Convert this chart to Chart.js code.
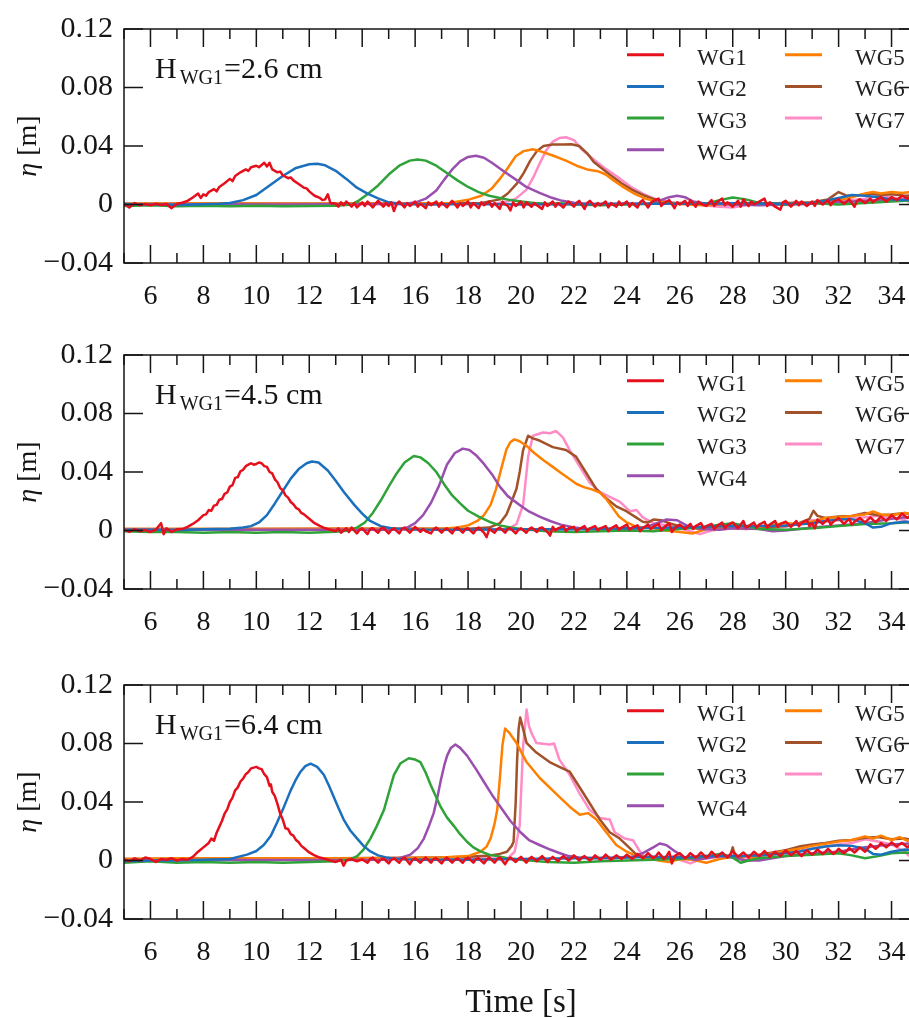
<!DOCTYPE html>
<html>
<head>
<meta charset="utf-8">
<script src="https://cdn.jsdelivr.net/npm/chart.js@4.4.1/dist/chart.umd.min.js"></script>
<style>
  html, body { margin: 0; padding: 0; background: #fff; }
  #wrap { position: relative; width: 909px; height: 1018px; overflow: hidden; background: #fff; }
  canvas { position: absolute; left: 0; }
</style>
</head>
<body>
<div id="wrap">
  <canvas id="c0" width="960" height="326" style="top:0px"></canvas>
  <canvas id="c1" width="960" height="326" style="top:326px"></canvas>
  <canvas id="c2" width="960" height="362" style="top:656px"></canvas>
</div>
<script>
// Surface elevation records (time in s, elevation in mm) for wave gauges WG1..WG7.
// Suffix _a: H_WG1 = 2.6 cm, _b: 4.5 cm, _c: 6.4 cm.

// ---------- H = 2.6 cm ----------
const wg1_a = [[5.0,0.5],[5.2,-2],[5.4,1],[5.6,-0.5],[5.8,0.3],[6.0,-0.5],[6.2,0.5],[6.4,-0.3],[6.6,0.4],[6.8,-2.5],[7.0,0.5],[7.2,1.2],[7.4,2.5],[7.6,4.8],[7.8,7.5],[7.9,4.5],[8.0,7],[8.1,6],[8.2,8.5],[8.4,10.5],[8.5,9],[8.6,12],[8.8,14.5],[9.0,17.5],[9.1,16],[9.2,19.5],[9.4,22],[9.6,24],[9.7,23],[9.8,25.5],[10.0,26.5],[10.1,25.5],[10.2,27],[10.3,28.5],[10.4,26],[10.5,28.5],[10.6,24],[10.8,22],[10.9,22.5],[11.0,20],[11.2,18],[11.3,18.5],[11.4,16.5],[11.6,14],[11.8,11.5],[11.9,11],[12.0,9],[12.2,6],[12.4,4.5],[12.5,3],[12.6,3.5],[12.7,7],[12.8,1],[13.0,0.5],[13.1,-1.5],[13.2,1.5],[13.3,-0.5],[13.4,2],[13.6,-1.5],[13.7,1],[13.8,-2],[14.0,1.5],[14.1,-1],[14.2,2],[14.4,-2],[14.5,0.5],[14.6,2.5],[14.8,-1.5],[14.9,1],[15.0,-1],[15.1,1.5],[15.2,-4.5],[15.3,0.5],[15.4,2],[15.6,-2],[15.7,1],[15.8,-1],[16.0,2],[16.1,-1.5],[16.2,0.5],[16.4,-2.5],[16.5,1.5],[16.6,-0.5],[16.8,2],[16.9,-1.5],[17.0,1.5],[17.2,-2],[17.3,0.5],[17.4,2.5],[17.6,-2],[17.7,1],[17.8,-1],[18.0,2],[18.1,-2],[18.2,1],[18.4,-2.5],[18.5,1.5],[18.6,-0.5],[18.8,2],[18.9,-1.5],[19.0,1],[19.2,-3],[19.3,2],[19.4,0],[19.5,-1],[19.6,-4],[19.7,1.5],[19.8,-1],[20.0,2],[20.1,-2],[20.2,1.5],[20.4,-1.5],[20.5,1],[20.6,-0.5],[20.8,-3],[20.9,1.5],[21.0,-1],[21.2,2],[21.3,-1.5],[21.4,1],[21.6,-2],[21.7,0.5],[21.8,2],[22.0,-1.5],[22.1,1],[22.2,2.5],[22.4,-3],[22.5,1],[22.6,2.5],[22.8,-1.5],[22.9,1],[23.0,-0.5],[23.2,2],[23.3,-2],[23.4,1],[23.6,-1.5],[23.7,2],[23.8,-0.5],[24.0,2],[24.1,-1.5],[24.2,1],[24.4,-2],[24.5,1.5],[24.6,3],[24.8,-2],[24.9,1],[25.0,2.5],[25.2,4],[25.3,-1],[25.4,1],[25.6,3],[25.8,-2.5],[25.9,1.5],[26.0,0],[26.2,2.5],[26.3,-1],[26.4,3],[26.6,-1.5],[26.7,2],[26.8,0.5],[27.0,-1],[27.2,3],[27.3,-1],[27.4,1.5],[27.6,4],[27.7,-0.5],[27.8,1.5],[28.0,-1.5],[28.2,2.5],[28.3,-1.5],[28.4,3.5],[28.6,-1],[28.7,2],[28.8,0],[29.0,2],[29.2,4],[29.3,-1],[29.4,1.5],[29.6,-1.5],[29.8,-3.5],[29.9,1.5],[30.0,2.5],[30.2,-1.5],[30.4,2.5],[30.5,-0.5],[30.6,2],[30.8,-1],[31.0,2],[31.1,-1],[31.2,3],[31.4,0],[31.6,3],[31.7,-0.5],[31.8,2],[32.0,3.5],[32.2,0.5],[32.4,3.5],[32.6,-1.5],[32.7,2.5],[32.8,3.5],[33.0,1],[33.2,4],[33.3,1.5],[33.4,3],[33.6,5],[33.8,2],[34.0,5],[34.2,3],[34.4,6],[34.6,4],[34.8,6.5],[35.0,4.5]];
const wg2_a = [[5,0.3],[6,0],[7,-0.3],[8,0.2],[8.6,0.5],[9.0,1],[9.5,3],[10.0,6.5],[10.5,13],[11.0,19.5],[11.5,25],[12.0,27.5],[12.3,27.8],[12.6,26.8],[13.0,23],[13.4,17.5],[13.8,11.5],[14.2,7.5],[14.6,4.2],[15.0,1.5],[15.5,0.3],[16.5,0],[18,0.3],[20,0],[22,0.2],[24,0.5],[26,0.5],[28,0.8],[30,0.5],[31,1],[31.5,2.5],[32,4.5],[32.5,6.5],[33,6],[33.5,5],[34,3.5],[34.5,3],[35,3.5]];
const wg3_a = [[5,-1],[6,-0.5],[7,-1.2],[8,-0.8],[9,-1.2],[10,-0.8],[11,-1.2],[12,-1],[13,-0.8],[13.6,0],[13.9,3],[14.2,7],[14.6,13],[15.0,20.5],[15.4,26.5],[15.8,30],[16.1,30.8],[16.4,30],[16.8,26.5],[17.2,21.5],[17.6,16.5],[18.0,12],[18.4,8.5],[18.8,6],[19.2,4.5],[19.6,3],[20.0,2],[20.5,1],[21,0.5],[21.5,0.8],[22,0],[23,-0.5],[24,0],[25,0.5],[26,0.5],[27,0.5],[27.5,3],[28,4.8],[28.5,3.5],[29,1],[30,0],[31,1],[32,0],[33,1],[34,2],[35,3]];
const wg4_a = [[5,0],[8,0.2],[11,0],[14,0.3],[15.5,0.3],[16.0,1.3],[16.4,4],[16.8,9.5],[17.1,17],[17.4,24],[17.7,29.5],[18.0,32.5],[18.3,33.3],[18.6,32],[18.9,28.5],[19.4,22],[19.85,16.5],[20.2,12],[20.7,7.9],[21.1,5],[21.5,2.8],[22,1.2],[22.5,0.5],[23,0.3],[24,0.5],[24.8,0.5],[25.2,2.5],[25.6,5],[25.9,6],[26.2,5],[26.5,2],[27,0.5],[28,0],[29,-0.5],[30,0],[31,0.5],[32,1.5],[33,2.5],[34,3.5],[35,3]];
const wg5_a = [[5,0.5],[8,0.6],[11,0.5],[14,0.6],[16,0.7],[17.3,1],[18.0,3.2],[18.5,6],[18.9,11],[19.2,17.5],[19.5,25],[19.8,33],[20.1,36.5],[20.45,37.8],[20.8,36],[21.2,33.5],[21.7,30],[22.1,26.5],[22.5,24],[22.9,22.8],[23.2,20.5],[23.5,16.5],[23.9,11.5],[24.3,7.2],[24.7,4],[25.1,2],[25.6,0.8],[26,0.3],[27,-0.5],[28,0.5],[29,0],[30,0.5],[31,1],[31.5,2],[32,3],[32.5,5],[33,7.5],[33.3,8.5],[33.6,7.5],[34,8.5],[34.4,7.8],[34.7,8.5],[35,7]];
const wg6_a = [[5,0.5],[9,0.6],[13,0.5],[17,0.6],[18.5,1],[19.2,3.5],[19.5,7.5],[19.85,14.5],[20.1,21.5],[20.35,30],[20.6,36.5],[20.85,40],[21.2,41],[21.6,41],[21.9,41.2],[22.2,40],[22.5,35],[22.75,29],[23.35,20.5],[23.8,14.5],[24.2,10],[24.6,6.5],[24.9,4.5],[25.3,2],[25.7,1.2],[26.2,0.8],[27,0.5],[28,0.5],[29,0.5],[30,1],[31,1.5],[31.6,3.5],[32.0,8.5],[32.3,6],[32.8,6.5],[33.2,7.5],[33.6,6.5],[34,7],[34.5,6],[35,6.5]];
const wg7_a = [[5,0.3],[9,0.4],[13,0.3],[17,0.4],[19.0,0.5],[19.5,2],[19.8,4],[20.2,10],[20.45,18],[20.7,27.8],[20.95,37],[21.2,43],[21.45,45.4],[21.7,46],[22.0,44],[22.3,37.5],[22.6,33],[22.9,28.5],[23.2,24.5],[23.6,19.5],[24.2,11.5],[24.6,7.5],[24.9,5],[25.3,2.5],[25.8,1],[26.5,0],[27.5,-1.5],[28,-2],[28.5,-0.5],[29,0.5],[30,0],[31,0.5],[32,2],[33,4],[33.5,6],[34,5],[34.5,3.5],[34.8,0],[35,-2]];

// ---------- H = 4.5 cm ----------
const wg1_b = [[5.0,0.5],[5.2,-1],[5.4,0.8],[5.6,-0.5],[5.8,0.3],[6.0,-1],[6.2,0.5],[6.4,5],[6.5,-2.5],[6.6,1.5],[6.8,-1],[7.0,0.8],[7.2,1],[7.4,2.5],[7.6,4.5],[7.8,7],[8.0,10.5],[8.1,11],[8.2,14],[8.3,13.5],[8.4,17],[8.5,17.5],[8.6,21],[8.7,21.5],[8.8,25],[8.9,26],[9.0,30],[9.1,31],[9.2,36],[9.3,36.5],[9.4,40.5],[9.5,41.5],[9.6,44],[9.7,45],[9.8,46],[9.9,45],[10.0,45.5],[10.1,46.5],[10.2,46],[10.3,44],[10.4,43.5],[10.5,40],[10.6,39],[10.7,35],[10.8,33],[10.9,29],[11.0,27.5],[11.1,24],[11.2,22.5],[11.3,19.5],[11.4,18],[11.5,15.5],[11.6,14.5],[11.7,12],[11.8,11],[12.0,8],[12.2,5],[12.4,3.2],[12.6,1.5],[12.8,0.5],[13.0,-0.5],[13.1,1.5],[13.2,-1.5],[13.4,1.5],[13.5,-1],[13.6,2],[13.8,-2],[13.9,0.5],[14.0,1.5],[14.2,-2.5],[14.3,1],[14.4,1.5],[14.6,-1.5],[14.7,1],[14.8,2],[15.0,-2],[15.1,0.5],[15.2,1.5],[15.4,-2],[15.5,1],[15.6,2],[15.8,-1.5],[15.9,0.5],[16.0,2.5],[16.2,-1],[16.3,1],[16.4,-0.5],[16.6,-2],[16.7,1],[16.8,2],[17.0,-1.5],[17.1,0.5],[17.2,1.5],[17.4,-2],[17.5,1],[17.6,2],[17.8,-1.5],[17.9,1],[18.0,1.5],[18.2,-2],[18.3,0.5],[18.4,2],[18.6,-1.5],[18.7,-4.5],[18.8,1],[19.0,-1.5],[19.1,1],[19.2,2],[19.4,-1.5],[19.5,1],[19.6,1.5],[19.8,-2],[19.9,0.5],[20.0,1.5],[20.2,-1.5],[20.3,1],[20.4,2],[20.6,-1],[20.7,1.5],[20.8,2],[21.0,-1],[21.1,-3.5],[21.2,2.5],[21.3,0],[21.4,1.5],[21.6,3],[21.7,-0.5],[21.8,1.5],[22.0,2.5],[22.1,-0.5],[22.2,1],[22.4,3],[22.5,-0.5],[22.6,1.5],[22.8,3],[22.9,0],[23.0,1.5],[23.2,3],[23.3,-0.5],[23.4,1.5],[23.6,3.5],[23.7,0.5],[23.8,2],[24.0,4],[24.1,0.5],[24.2,2],[24.4,3.5],[24.5,-0.5],[24.6,1.5],[24.8,4],[24.9,1],[25.0,2.5],[25.2,4.5],[25.3,0],[25.4,2],[25.6,5],[25.7,-1],[25.8,1.5],[26.0,4],[26.2,1],[26.4,4.5],[26.5,1],[26.6,3],[26.8,5],[26.9,1.5],[27.0,3],[27.2,4.5],[27.3,1],[27.4,3],[27.6,5.5],[27.7,1.5],[27.8,3.5],[28.0,5.5],[28.2,1.5],[28.4,6.5],[28.5,2],[28.6,3],[28.8,5.5],[28.9,2],[29.0,4],[29.2,6],[29.3,2],[29.4,4],[29.6,6.5],[29.7,2.5],[29.8,4.5],[30.0,6],[30.2,2.5],[30.4,6.5],[30.5,3],[30.6,5],[30.8,7],[30.9,3],[31.0,5],[31.1,1.5],[31.2,7.5],[31.4,4.5],[31.6,8],[31.7,4],[31.8,6],[32.0,8.5],[32.2,4.5],[32.4,8],[32.5,4],[32.6,6],[32.8,8.5],[33.0,5.5],[33.2,9],[33.4,5.5],[33.6,9.5],[33.8,6.5],[34.0,10.5],[34.2,7.5],[34.4,11.5],[34.6,8.5],[34.8,11.5],[35.0,9.5]];
const wg2_b = [[5,0.5],[6,0.5],[7,0.3],[8,0.8],[9,1.2],[9.5,2],[9.8,3],[10.1,5.5],[10.4,10.5],[10.7,18.5],[11.0,27],[11.3,35.5],[11.6,42],[11.9,46],[12.1,47.2],[12.35,46.5],[12.7,41],[13.0,34],[13.3,26.5],[13.7,17.5],[14.0,11.5],[14.3,6.5],[14.7,3],[15.1,1.5],[15.6,0.8],[16.5,0.5],[18,0.5],[20,0.8],[22,0.8],[24,1.5],[26,2],[27,2.5],[28,3],[29,3],[30,3.5],[31,5],[31.5,6.5],[32,7.5],[32.5,7.8],[33,5],[33.3,2],[33.6,2.5],[34,5],[34.5,6],[35,5.5]];
const wg3_b = [[5,-0.5],[6,-1],[7,-1],[8,-1.5],[9,-1],[10,-1.5],[11,-1],[12,-1.5],[13,-0.8],[13.5,0],[13.8,2],[14.1,5.5],[14.4,12],[14.7,20.5],[15.0,30],[15.3,39],[15.6,46.5],[15.95,51],[16.2,50],[16.5,46],[16.8,40],[17.1,31.5],[17.4,24],[17.7,18.5],[18.0,13.5],[18.4,9.5],[18.8,6],[19.2,3.5],[19.6,2],[20,1],[21,-0.5],[22,-1],[23,-0.5],[24,0],[25,-0.5],[26,1],[27,2.5],[27.5,4],[28,5],[28.5,3],[29,1],[30,0.5],[31,1.5],[32,3],[33,4.5],[34,5],[35,6]];
const wg4_b = [[5,0.5],[9,0.5],[13,0.5],[15.3,0.5],[15.7,2],[16.0,5],[16.3,10.5],[16.6,19],[16.9,30.5],[17.2,45],[17.5,53],[17.8,56],[18.05,55],[18.3,51.5],[18.6,45.5],[18.9,38.5],[19.2,30],[19.5,23.5],[19.95,17.5],[20.3,13],[20.7,9.5],[21.1,6.5],[21.5,4],[22,2],[22.5,1],[23.5,0.5],[24.5,1.5],[25,4],[25.5,7.5],[25.9,7],[26.3,3],[26.8,1],[27.5,0.5],[28,1.5],[29,1],[29.5,-0.5],[30,0],[31,2],[32,3.5],[33,5],[34,8],[34.5,9],[35,8]];
const wg5_b = [[5,1],[9,1],[13,1.2],[17,1.2],[17.6,2],[18.0,3.5],[18.35,6.5],[18.6,10.5],[18.85,17.5],[19.05,28],[19.25,42],[19.45,55.5],[19.6,60.5],[19.75,62.3],[19.95,61],[20.2,58],[20.5,53],[20.85,48],[21.2,43.5],[21.5,39.5],[21.85,35],[22.1,31.8],[22.4,29.5],[22.65,28.3],[22.98,26],[23.2,22],[23.4,17],[23.7,9.5],[24.0,5.5],[24.3,3],[24.6,2],[25,1.5],[25.5,0],[26,-1],[26.5,-2],[27,1],[27.5,2],[28,2.5],[28.5,1],[29,2.5],[29.5,4],[30,5],[30.5,4.5],[31,6],[31.5,8.5],[32,9],[32.5,10],[33,11],[33.3,13],[33.6,11],[34,10.5],[34.5,12],[35,11]];
const wg6_b = [[5,1],[9,1],[13,1.2],[18,1.2],[18.8,2],[19.2,5],[19.45,11],[19.65,20],[19.83,28.5],[19.95,40],[20.08,55],[20.27,64.8],[20.45,63],[20.7,61.5],[21.2,57],[21.7,55],[22.08,50.5],[22.46,39.5],[22.84,28.5],[23.22,22],[23.6,16.5],[23.98,13.2],[24.36,8.8],[24.6,6],[24.8,5.5],[25.0,7.5],[25.3,7],[25.6,5],[26,3],[26.5,1.5],[27,1],[28,2],[29,2],[30,3],[30.5,5],[30.9,8],[31.05,13.5],[31.2,10],[31.5,8.5],[32,9.5],[32.5,10],[33,12],[33.5,10.5],[34,11],[34.5,12],[35,10]];
const wg7_b = [[5,0.5],[9,0.6],[13,0.5],[17,0.6],[19.5,1],[19.83,4.4],[20.08,17.6],[20.27,50.5],[20.45,64.8],[20.83,67],[21.1,66.5],[21.33,68],[21.58,63.7],[21.84,55],[22.22,43.7],[22.6,32.6],[22.98,26.4],[23.35,23],[23.73,19.8],[24.11,13.2],[24.36,14],[24.6,9],[25.0,5],[25.7,3],[26.2,0.5],[26.76,-2.5],[27.2,0],[27.8,1.5],[28.5,1],[29,1.5],[30,2.5],[30.5,4.5],[31,7],[31.5,6],[32,7],[32.5,8.5],[33,9],[33.5,10],[34,9],[34.5,7],[34.8,3],[35,-1]];

// ---------- H = 6.4 cm ----------
const wg1_c = [[5.0,1],[5.2,-0.5],[5.4,1.5],[5.6,0],[5.8,2],[6.0,1],[6.2,-1],[6.4,1],[6.6,0.5],[6.8,1.5],[7.0,0],[7.2,1],[7.4,0.5],[7.6,2.5],[7.8,6],[8.0,9],[8.2,12],[8.3,15],[8.4,13.5],[8.5,19],[8.6,23],[8.7,27],[8.8,32],[8.9,35],[9.0,40],[9.1,43],[9.2,48],[9.3,50],[9.4,54],[9.5,56],[9.6,59],[9.7,60.5],[9.8,63],[9.9,63.5],[10.0,64],[10.1,63],[10.2,62.5],[10.3,59],[10.4,57],[10.5,51],[10.55,52],[10.6,47],[10.7,44],[10.8,38.5],[10.9,32],[11.0,28],[11.1,22],[11.2,21.5],[11.3,18],[11.4,17],[11.5,14],[11.6,12.5],[11.7,10],[11.8,8.5],[12.0,5.5],[12.2,3.5],[12.4,2],[12.6,1],[12.8,0],[13.0,-1],[13.2,0.5],[13.3,-3.5],[13.4,0],[13.6,1],[13.8,-0.5],[14.0,0.8],[14.2,-1.5],[14.3,1],[14.4,2],[14.6,-1.5],[14.7,0.5],[14.8,1.5],[15.0,-2],[15.1,0.5],[15.2,1.5],[15.4,-1.5],[15.5,1],[15.6,2],[15.8,-2.5],[15.9,0.5],[16.0,1.5],[16.2,-1.5],[16.3,0.5],[16.4,2],[16.6,-1.5],[16.7,1],[16.8,1.5],[17.0,-2],[17.1,0.5],[17.2,2],[17.4,-1.5],[17.5,0.5],[17.6,1.5],[17.8,-1.5],[17.9,1],[18.0,2],[18.2,-1.5],[18.3,1],[18.4,1.5],[18.6,-2],[18.7,0.5],[18.8,2],[19.0,-1.5],[19.1,1],[19.2,2],[19.4,-2.5],[19.5,0.5],[19.6,2],[19.8,-1],[19.9,1],[20.0,2.5],[20.2,-1.5],[20.3,1],[20.4,2.5],[20.6,-0.5],[20.7,1.5],[20.8,3],[21.0,-1],[21.1,1],[21.2,2.5],[21.4,-0.5],[21.5,1.5],[21.6,3],[21.8,0],[21.9,1.5],[22.0,3.5],[22.2,0],[22.3,2],[22.4,3],[22.6,0],[22.7,1.5],[22.8,3.5],[23.0,0.5],[23.1,2],[23.2,4],[23.4,0.5],[23.5,2],[23.6,3.5],[23.8,1],[23.9,2.5],[24.0,4],[24.2,1],[24.3,2.5],[24.4,4.5],[24.6,1.5],[24.7,3],[24.8,5],[25.0,1.5],[25.1,3],[25.2,5.5],[25.4,1],[25.5,3],[25.6,6],[25.7,-2],[25.8,3],[26.0,5],[26.2,1.5],[26.3,3],[26.4,5],[26.6,2],[26.7,3.5],[26.8,5.5],[27.0,2],[27.1,3.5],[27.2,6],[27.4,2.5],[27.5,4],[27.6,5.5],[27.8,2],[27.9,4],[28.0,6.5],[28.2,2.5],[28.3,4],[28.4,5.5],[28.6,2],[28.7,4],[28.8,6],[29.0,3],[29.1,4.5],[29.2,6.5],[29.4,2.5],[29.5,4.5],[29.6,6],[29.8,3],[29.9,5],[30.0,7],[30.2,3.5],[30.3,5],[30.4,6.5],[30.6,3],[30.7,5],[30.8,7],[31.0,4],[31.1,5.5],[31.2,7.5],[31.4,4.5],[31.5,6],[31.6,8],[31.8,4.5],[31.9,6],[32.0,8],[32.2,5],[32.3,6.5],[32.4,8.5],[32.6,5.5],[32.7,7],[32.8,9],[33.0,6],[33.1,8],[33.2,11],[33.4,8],[33.5,9.5],[33.6,12],[33.8,9],[33.9,10.5],[34.0,12.5],[34.2,9.5],[34.3,11],[34.4,12],[34.6,9],[34.7,10.5],[34.8,12],[35.0,9.5]];
const wg2_c = [[5,-0.5],[6,0],[7,0],[8,0.5],[9,1],[9.65,4],[10.0,6.5],[10.28,10.6],[10.55,17],[10.78,25.8],[11.05,37],[11.29,47.6],[11.5,55.5],[11.67,60.7],[11.85,64.5],[12.05,66.2],[12.3,64],[12.55,58.6],[12.75,51],[12.93,43.3],[13.1,36],[13.3,28],[13.55,20.5],[13.81,15],[14.05,10],[14.31,6.2],[14.6,3.5],[14.9,2],[15.3,1],[16,0.5],[17,0.5],[18,0.5],[20,1],[22,1.5],[24,2],[25,2.5],[26,2],[27,3],[28,3],[29,3.5],[30,5],[30.5,6],[31,8],[31.5,9.5],[32,10.5],[32.5,10],[33,8],[33.3,4.5],[33.6,4],[34,6],[34.5,7.5],[35,7]];
const wg3_c = [[5,-1.5],[6,-0.5],[7,-1.5],[8,-1],[9,-1.5],[10,-1],[11,-1.5],[12,-1],[13,-0.5],[13.5,0.5],[13.81,3],[14.05,7.5],[14.31,15],[14.55,23.5],[14.82,34.5],[15.0,46],[15.2,58.6],[15.45,66.5],[15.76,69.9],[16.0,69],[16.2,67.3],[16.4,60],[16.58,52],[16.78,44],[16.96,36.8],[17.2,29.5],[17.46,23.7],[17.7,18],[17.96,12.8],[18.2,9],[18.47,6.2],[18.8,4],[19.1,3],[19.5,1.5],[20,0.5],[21,-1],[22,-1.5],[23,-0.5],[24,0],[25,0.5],[26,1],[27,3],[27.5,4.5],[28,2],[28.3,-1.5],[28.6,0],[29,1.5],[30,3],[31,4],[32,5],[32.5,3.5],[33,1.5],[33.5,3],[34,5],[34.5,5.5],[35,5]];
const wg4_c = [[5,0],[9,0.3],[13,0.3],[15,0.5],[15.4,1.5],[15.82,4],[16.1,8.5],[16.33,15],[16.5,22.5],[16.7,32.4],[16.85,44],[16.96,54],[17.1,65],[17.21,71.7],[17.35,77],[17.52,79.3],[17.7,77],[17.96,71.7],[18.3,62.5],[18.59,54],[18.9,45],[19.22,36.8],[19.6,27],[19.98,19.3],[20.3,14],[20.7,10.6],[21.1,7.5],[21.45,5.1],[21.8,3],[22.2,2],[22.8,1.5],[23.5,1.5],[24.2,2.5],[24.6,5],[25.0,9],[25.24,11.6],[25.5,10.5],[25.8,6.5],[26.2,2],[26.6,0.5],[27,1.5],[27.5,3],[28,2],[28.5,0],[29,0],[29.5,1.5],[30,3],[31,5],[32,6],[32.5,7.5],[33,9],[33.5,10],[34,11],[34.5,11.5],[35,12]];
const wg5_c = [[5,1],[8,1.5],[12,1.5],[15,1.5],[17,2],[18,3],[18.47,6],[18.7,9.5],[18.85,15],[19.0,25],[19.1,34.5],[19.2,56],[19.3,79],[19.4,90.2],[19.55,87.5],[19.83,80.4],[20.21,67.3],[20.71,56.4],[21.33,45.5],[21.84,36.8],[22.22,31.3],[22.53,32.4],[22.85,28],[23.22,19.3],[23.6,10.6],[23.98,6.2],[24.36,3],[24.8,1.5],[25.2,0],[25.6,-1],[26,1],[26.5,0.5],[27,-1.5],[27.5,1],[28,2.5],[28.5,0],[29,3],[29.5,5],[30,6.5],[30.5,8],[31,10],[31.5,11.5],[32,13],[32.5,14],[33,16.5],[33.3,15],[33.6,17],[34,14],[34.3,16],[34.6,13.5],[35,14.5]];
const wg6_c = [[5,1],[9,1.5],[13,1.5],[17,2],[18,2.5],[18.85,3.5],[19.2,4.5],[19.47,6],[19.65,10],[19.72,12.8],[19.8,40],[19.85,67.3],[19.91,90],[19.97,97.8],[20.08,90],[20.21,80.4],[20.58,73.8],[21.08,67.3],[21.45,64],[21.84,60.7],[22.22,49.9],[22.6,39],[22.98,28],[23.35,19.3],[23.73,15],[24.11,8.4],[24.36,4],[24.7,2],[25,1],[25.5,1.5],[26,2.5],[26.5,1],[27,2],[27.5,3.5],[27.9,3],[28.0,9],[28.1,2],[28.5,3],[29,4],[29.5,5.5],[30,7],[30.5,9.5],[31,11],[31.5,12],[32,13.5],[32.5,14],[33,15.5],[33.5,16],[34,14.5],[34.5,15],[35,13]];
const wg7_c = [[5,0.5],[9,1],[13,1],[17,1.2],[19.5,1.5],[19.76,6],[19.95,23.7],[20.08,78.2],[20.21,103.3],[20.3,92],[20.4,87],[20.58,80.4],[21.08,79.3],[21.25,80],[21.45,69],[21.84,58.6],[22.22,45.5],[22.6,34.5],[22.98,29],[23.35,28],[23.54,19.3],[23.92,15],[24.23,13.9],[24.5,6],[24.7,2],[25.0,2.5],[25.3,1],[25.7,3],[26,0.5],[26.4,-2],[26.8,1],[27.5,2.5],[28,3.5],[28.5,2],[29,3],[29.5,4],[30,5.5],[30.5,6.5],[31,8],[31.5,9.5],[32,11],[32.5,12],[33,14.5],[33.5,13],[34,11],[34.5,6],[34.8,1],[35,-2]];

// ---------- labels, ticks, styling ----------
const gaugeNames = ['WG1', 'WG2', 'WG3', 'WG4', 'WG5', 'WG6', 'WG7'];
const gaugeColors = ['#e6101d', '#1b70bd', '#2fa23a', '#9a4fae', '#ff8000', '#a2522a', '#ff8cc6'];
const waveHeights = ['2.6', '4.5', '6.4'];
const xTicks = [6, 8, 10, 12, 14, 16, 18, 20, 22, 24, 26, 28, 30, 32, 34];
const xMinorTicks = [5, 7, 9, 11, 13, 15, 17, 19, 21, 23, 25, 27, 29, 31, 33, 35];
const yTicks = [-0.04, 0, 0.04, 0.08, 0.12];
const yTickLabels = ['\u22120.04', '0', '0.04', '0.08', '0.12'];

const panelSeries = [
  [wg1_a, wg2_a, wg3_a, wg4_a, wg5_a, wg6_a, wg7_a],
  [wg1_b, wg2_b, wg3_b, wg4_b, wg5_b, wg6_b, wg7_b],
  [wg1_c, wg2_c, wg3_c, wg4_c, wg5_c, wg6_c, wg7_c]
];

const SERIF = '"Liberation Serif", "Times New Roman", Times, serif';
const INK = '#151515';

// Frame around the plot area plus inward ticks on all four sides.
const frameTicks = {
  id: 'frameTicks',
  afterDraw(chart) {
    const { ctx, chartArea: a, scales: { x, y } } = chart;
    ctx.save();
    ctx.strokeStyle = INK;
    ctx.lineWidth = 1.5;
    ctx.beginPath();
    const xt = (v, len) => {
      const px = x.getPixelForValue(v);
      ctx.moveTo(px, a.bottom); ctx.lineTo(px, a.bottom - len);
      ctx.moveTo(px, a.top); ctx.lineTo(px, a.top + len);
    };
    xTicks.forEach(v => xt(v, 18));
    xMinorTicks.forEach(v => xt(v, 10));
    yTicks.forEach(v => {
      const py = y.getPixelForValue(v);
      ctx.moveTo(a.left, py); ctx.lineTo(a.left + 19, py);
      ctx.moveTo(a.right, py); ctx.lineTo(a.right - 19, py);
    });
    ctx.stroke();
    ctx.strokeRect(a.left, a.top, a.right - a.left, a.bottom - a.top);
    ctx.restore();
  }
};

// Two-column legend inside the upper right of the plot area.
const gaugeLegend = {
  id: 'gaugeLegend',
  afterDatasetsDraw(chart) {
    const { ctx, chartArea: a } = chart;
    ctx.save();
    ctx.font = '23px ' + SERIF;
    ctx.fillStyle = '#222';
    ctx.textBaseline = 'alphabetic';
    ctx.lineCap = 'butt';
    chart.data.datasets.forEach((ds, i) => {
      const col = Math.floor(i / 4), row = i % 4;
      const x0 = a.right - 291 + col * 158;
      const yy = a.top + 25.7 + row * 31.7;
      ctx.strokeStyle = ds.borderColor;
      ctx.lineWidth = 3;
      ctx.beginPath(); ctx.moveTo(x0, yy); ctx.lineTo(x0 + 37, yy); ctx.stroke();
      ctx.fillText(ds.label, x0 + 70, yy + 10);
    });
    ctx.restore();
  }
};

// Wave-height note and the eta axis title (italic symbol, upright unit).
const panelText = {
  id: 'panelText',
  afterDatasetsDraw(chart, args, opts) {
    const { ctx, chartArea: a } = chart;
    ctx.save();
    ctx.fillStyle = INK;
    ctx.textBaseline = 'alphabetic';
    let x0 = a.left + 31;
    const base = a.top + 49;
    ctx.font = '30px ' + SERIF;
    ctx.fillText('H', x0, base);
    x0 += ctx.measureText('H').width + 3;
    ctx.font = '20px ' + SERIF;
    ctx.fillText('WG1', x0, base + 6);
    x0 += ctx.measureText('WG1').width + 1;
    ctx.font = '30px ' + SERIF;
    ctx.fillText('=' + opts.height + ' cm', x0, base);

    ctx.translate(36, (a.top + a.bottom) / 2);
    ctx.rotate(-Math.PI / 2);
    ctx.font = 'italic 28px ' + SERIF;
    const w1 = ctx.measureText('\u03b7').width;
    ctx.font = '28px ' + SERIF;
    const w2 = ctx.measureText(' [m]').width;
    const sx = -(w1 + w2) / 2;
    ctx.font = 'italic 28px ' + SERIF;
    ctx.fillText('\u03b7', sx, 0);
    ctx.font = '28px ' + SERIF;
    ctx.fillText(' [m]', sx + w1, 0);
    ctx.restore();
  }
};

function makePanel(idx) {
  const canvas = document.getElementById('c' + idx);
  const last = idx === panelSeries.length - 1;
  const datasets = panelSeries[idx].map((series, i) => ({
    label: gaugeNames[i],
    data: series.map(p => ({ x: p[0], y: p[1] / 1000 })),
    borderColor: gaugeColors[i],
    backgroundColor: gaugeColors[i],
    borderWidth: 2.5,
    pointRadius: 0,
    tension: 0,
    fill: false,
    borderJoinStyle: 'round'
  }));

  new Chart(canvas, {
    type: 'line',
    data: { datasets },
    options: {
      responsive: false,
      animation: false,
      devicePixelRatio: 1,
      layout: { padding: { top: 21, right: 42, left: 0, bottom: 0 } },
      plugins: {
        legend: { display: false },
        tooltip: { enabled: false },
        panelText: { height: waveHeights[idx] }
      },
      scales: {
        x: {
          type: 'linear',
          min: 5,
          max: 35,
          grid: { display: false, drawTicks: false },
          border: { display: false },
          afterBuildTicks: s => { s.ticks = xTicks.map(v => ({ value: v })); },
          afterFit: s => { s.height = canvas.height - 263; },
          ticks: {
            font: { family: SERIF, size: 28 },
            color: INK,
            padding: 17,
            maxRotation: 0,
            autoSkip: false,
            callback: v => String(v)
          },
          title: {
            display: last,
            text: 'Time [s]',
            font: { family: SERIF, size: 33, lineHeight: 0.9 },
            color: INK,
            padding: { top: 0, bottom: 0 }
          }
        },
        y: {
          min: -0.04,
          max: 0.12,
          grid: { display: false, drawTicks: false },
          border: { display: false },
          afterBuildTicks: s => { s.ticks = yTicks.map(v => ({ value: v })); },
          afterFit: s => { s.width = 124; },
          ticks: {
            font: { family: SERIF, size: 30 },
            color: INK,
            padding: 11,
            callback: (v, i) => yTickLabels[i]
          }
        }
      }
    },
    plugins: [gaugeLegend, panelText, frameTicks]
  });
}

panelSeries.forEach((_, i) => makePanel(i));
</script>
</body>
</html>
